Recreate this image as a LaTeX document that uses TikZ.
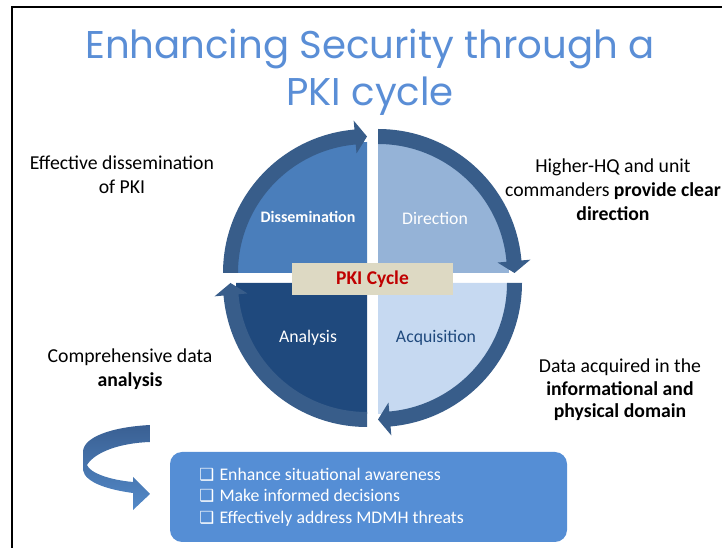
\documentclass[tikz,border=0pt]{standalone}
\usepackage{fontspec}
\setmainfont{Carlito}
\newfontfamily\titlefont{Poppins}
\newfontfamily\symfont{DejaVu Sans}
\usepackage{tikz}
\usetikzlibrary{positioning, calc}
\definecolor{titleblue}{HTML}{5A8ED6}
\definecolor{ringcol}  {HTML}{385D8A}
\definecolor{dissem}   {HTML}{4A7EBB}
\definecolor{direct}   {HTML}{95B3D7}
\definecolor{acqui}    {HTML}{C6D9F1}
\definecolor{analy}    {HTML}{1F497D}
\definecolor{pkitan}   {HTML}{DDD9C3}
\definecolor{pkired}   {HTML}{C00000}
\definecolor{boxblue}  {HTML}{558ED5}
\definecolor{swirldark}{HTML}{3A6093}
\definecolor{swirllite}{HTML}{5389C8}

\begin{document}
\begin{tikzpicture}[
    x=0.75pt, y=0.75pt,
    side/.style  = {align=center, font=\fontsize{14.8}{18}\selectfont,
                    inner sep=0pt},
    qlbl/.style  = {font=\fontsize{13.3}{15}\selectfont, inner sep=0pt},
    chk/.style   = {font=\symfont\fontsize{10}{10}\selectfont}
  ]
  \useasboundingbox (0,0) rectangle (722,-548);

  %% frame
  \draw[line width=1.4pt] (12,-548) -- (12,-7) -- (722,-7);

  %% title
  \node[align=center, text=titleblue, inner sep=0pt,
        font=\titlefont\fontsize{29}{35}\selectfont] (title) at (370,-72)
       {Enhancing Security through a\\PKI cycle};

  %% quadrants + ring arrows
  \foreach \cx/\cy/\s/\col in {367/273/180/dissem, 378/273/90/direct,
                                378/283/0/acqui,    367/283/-90/analy} {
    \pgfmathsetmacro{\e}{\s-90}
    \pgfmathsetmacro{\h}{\s-85}
    \begin{scope}[shift={(\cx,-\cy)}]
      \fill[\col] (0,0) -- (\s:131)
        arc[start angle=\s, end angle=\e, radius=131] -- cycle;
      \fill[ringcol] (\s:144)
        arc[start angle=\s, end angle=\h, radius=144]
        -- (\h:153) -- (\e:136.5) -- (\h:120) -- (\h:129)
        arc[start angle=\h, end angle=\s, radius=129] -- cycle;
    \end{scope}
  }

  \node[qlbl, text=white, font=\bfseries\fontsize{12}{14}\selectfont]
       (dis) at (308,-217) {Dissemination};
  \node[qlbl, text=white]  (dir) at (435,-218) {Direction};
  \node[qlbl, text=white]  (ana) at (308,-338) {Analysis};
  \node[qlbl, text=analy]  (acq) at (436,-338) {Acquisition};

  %% centre label
  \node[fill=pkitan, minimum width=120.75pt, minimum height=24pt,
        text=pkired, font=\bfseries\fontsize{14.6}{16}\selectfont]
       (pki) at (372.5,-279) {PKI Cycle};

  %% side notes
  \node[side] (eff)  at (122,-175) {Effective dissemination\\of PKI};
  \node[side] (hq)   at (613,-190)
       {Higher-HQ and unit\\commanders \textbf{provide clear}\\\textbf{direction}};
  \node[side] (comp) at (130,-369) {Comprehensive data\\\textbf{analysis}};
  \node[side, font=\fontsize{14.8}{17}\selectfont] (data) at (620,-390)
       {Data acquired in the\\\textbf{informational and}\\\textbf{physical domain}};

  %% outcome box
  \node[fill=boxblue, rounded corners=9pt, minimum width=297.75pt,
        minimum height=67.5pt] (out) at (368.5,-497) {};
  \node[align=left, text=white, anchor=west, inner sep=0pt,
        font=\fontsize{13.3}{16}\selectfont] (items) at (199,-497)
       {{\symfont\fontsize{12.5}{10}\selectfont ❑}\hspace{4pt}Enhance situational awareness\\
        {\symfont\fontsize{12.5}{10}\selectfont ❑}\hspace{4pt}Make informed decisions\\
        {\symfont\fontsize{12.5}{10}\selectfont ❑}\hspace{4pt}Effectively address MDMH threats};

  %% swirl arrow
  \shade[top color=swirldark, bottom color=swirllite]
    (150,-425) .. controls (112,-427) and (83,-437) .. (83,-452)
    -- (83,-470) .. controls (85,-483) and (110,-490) .. (133,-493)
    -- (133,-510) -- (150,-494) -- (133,-477) -- (133,-482)
    .. controls (110,-480) and (90,-473) .. (87,-465)
    .. controls (95,-452) and (120,-443) .. (150,-442) -- cycle;

\end{tikzpicture}
\end{document}
